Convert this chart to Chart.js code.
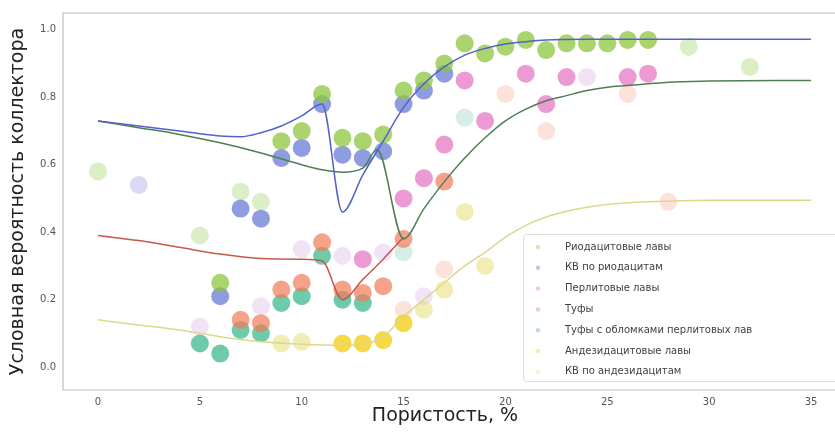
<!DOCTYPE html>
<html lang="ru">
<head>
<meta charset="UTF-8">
<title>Условная вероятность коллектора</title>
<script src="https://cdn.jsdelivr.net/npm/chart.js"></script>
<style>
  html, body { margin: 0; padding: 0; background: #fff; overflow: hidden; }
  #wrap { width: 860px; height: 434px; }
</style>
</head>
<body>
<div id="wrap"><canvas id="chart" width="860" height="434"></canvas></div>
<script>
// --- tick labels and axis titles ---
const xTicks = [0, 5, 10, 15, 20, 25, 30, 35];
const yTicks = [0.0, 0.2, 0.4, 0.6, 0.8, 1.0];
const xTitle = 'Пористость, %';
const yTitle = 'Условная вероятность коллектора';

// --- series names (legend order) ---
const seriesNames = [
  'Риодацитовые лавы',
  'КВ по риодацитам',
  'Перлитовые лавы',
  'Туфы',
  'Туфы с обломками перлитовых лав',
  'Андезидацитовые лавы',
  'КВ по андезидацитам'
];

// --- scatter points: porosity (%) and probability ---
const rhyoX = [6, 9, 10, 11, 12, 13, 14, 15, 16, 17, 18, 19, 20, 21, 22, 23, 24, 25, 26, 27];
const rhyoY = [0.25, 0.67, 0.70, 0.81, 0.68, 0.67, 0.69, 0.82, 0.85, 0.90, 0.96, 0.93, 0.95, 0.97, 0.94, 0.96, 0.96, 0.96, 0.97, 0.97];
const rhyoPaleX = [0, 5, 7, 8, 29, 32];
const rhyoPaleY = [0.58, 0.39, 0.52, 0.49, 0.95, 0.89];

const kvRhyoX = [6, 7, 8, 9, 10, 11, 12, 13, 14, 15, 16, 17];
const kvRhyoY = [0.21, 0.47, 0.44, 0.62, 0.65, 0.78, 0.63, 0.62, 0.64, 0.78, 0.82, 0.87];
const kvRhyoPaleX = [2];
const kvRhyoPaleY = [0.54];

const perlX = [13, 15, 16, 17, 18, 19, 21, 22, 23, 26, 27];
const perlY = [0.32, 0.50, 0.56, 0.66, 0.85, 0.73, 0.87, 0.78, 0.86, 0.86, 0.87];
const perlPaleX = [5, 8, 10, 12, 14, 16, 24];
const perlPaleY = [0.12, 0.18, 0.35, 0.33, 0.34, 0.21, 0.86];

const tuffX = [7, 8, 9, 10, 11, 12, 13, 14, 15, 17];
const tuffY = [0.14, 0.13, 0.23, 0.25, 0.37, 0.23, 0.22, 0.24, 0.38, 0.55];
const tuffPaleX = [15, 17, 20, 22, 26, 28];
const tuffPaleY = [0.17, 0.29, 0.81, 0.70, 0.81, 0.49];

const tuffPerlX = [5, 6, 7, 8, 9, 10, 11, 12, 13];
const tuffPerlY = [0.07, 0.04, 0.11, 0.10, 0.19, 0.21, 0.33, 0.20, 0.19];
const tuffPerlPaleX = [15, 18];
const tuffPerlPaleY = [0.34, 0.74];

const andesX = [12, 13, 14, 15];
const andesY = [0.07, 0.07, 0.08, 0.13];

const kvAndesX = [9, 10, 16, 17, 18, 19];
const kvAndesY = [0.07, 0.075, 0.17, 0.23, 0.46, 0.30];

// --- model curves ---
const blueLineX = [0, 2, 4, 6, 7, 8, 9, 10, 11, 12, 13, 14, 15, 16, 17, 18, 19, 20, 21, 22, 24, 27, 30, 35];
const blueLineY = [0.73, 0.715, 0.70, 0.685, 0.683, 0.695, 0.715, 0.745, 0.78, 0.46, 0.57, 0.67, 0.77, 0.84, 0.89, 0.925, 0.945, 0.958, 0.965, 0.97, 0.972, 0.972, 0.972, 0.972];

const greenLineX = [0, 2, 4, 6, 8, 10, 11, 12, 13, 13.7, 15, 16, 17, 18, 19, 20, 21, 22, 23, 24, 25, 26, 27, 28, 30, 35];
const greenLineY = [0.73, 0.71, 0.69, 0.665, 0.635, 0.60, 0.585, 0.578, 0.59, 0.645, 0.38, 0.47, 0.55, 0.62, 0.68, 0.73, 0.765, 0.79, 0.805, 0.82, 0.83, 0.835, 0.84, 0.845, 0.848, 0.85];

const redLineX = [0, 2, 4, 6, 8, 10, 11, 12, 13, 14, 15];
const redLineY = [0.39, 0.375, 0.355, 0.335, 0.322, 0.32, 0.315, 0.20, 0.26, 0.32, 0.385];

const yellowLineX = [0, 2, 4, 6, 8, 10, 12, 13, 14, 15, 16, 17, 18, 19, 20, 21, 22, 23, 24, 25, 27, 30, 35];
const yellowLineY = [0.14, 0.125, 0.11, 0.09, 0.075, 0.068, 0.065, 0.068, 0.09, 0.15, 0.20, 0.25, 0.30, 0.34, 0.385, 0.42, 0.445, 0.462, 0.474, 0.482, 0.49, 0.495, 0.495];

const zip = (xs, ys) => xs.map((x, i) => ({ x: x, y: ys[i] }));

const colors = ['140,198,62', '95,115,211', '228,111,192', '242,122,90', '61,186,140', '242,207,26', '232,222,120'];

function pts(label, xs, ys, c, alpha, inLegend) {
  return {
    type: 'scatter', label: label, data: zip(xs, ys), order: 2, inLegend: inLegend,
    pointRadius: 9, pointHoverRadius: 9, borderWidth: 0,
    backgroundColor: 'rgba(' + c + ',' + alpha + ')'
  };
}
function line(xs, ys, color) {
  return {
    type: 'line', label: '', data: zip(xs, ys), order: 0, inLegend: false,
    borderColor: color, borderWidth: 1.5, pointRadius: 0, fill: false,
    cubicInterpolationMode: 'monotone'
  };
}

const datasets = [
  pts(seriesNames[0], rhyoX, rhyoY, colors[0], 0.75, true),
  pts(seriesNames[1], kvRhyoX, kvRhyoY, colors[1], 0.7, true),
  pts(seriesNames[2], perlX, perlY, colors[2], 0.7, true),
  pts(seriesNames[3], tuffX, tuffY, colors[3], 0.7, true),
  pts(seriesNames[4], tuffPerlX, tuffPerlY, colors[4], 0.75, true),
  pts(seriesNames[5], andesX, andesY, colors[5], 0.8, true),
  pts(seriesNames[6], kvAndesX, kvAndesY, colors[6], 0.55, true),
  pts('', rhyoPaleX, rhyoPaleY, colors[0], 0.3, false),
  pts('', kvRhyoPaleX, kvRhyoPaleY, '170,170,230', 0.45, false),
  pts('', perlPaleX, perlPaleY, '225,190,235', 0.45, false),
  pts('', tuffPaleX, tuffPaleY, '245,175,150', 0.35, false),
  pts('', tuffPerlPaleX, tuffPerlPaleY, '150,215,190', 0.4, false),
  line(blueLineX, blueLineY, '#5262c8'),
  line(greenLineX, greenLineY, '#4d7f55'),
  line(redLineX, redLineY, '#c55a4c'),
  line(yellowLineX, yellowLineY, '#dcd88a')
];

// frame (top, left, bottom; right edge lies outside the picture) and x title
const framePlugin = {
  id: 'frame',
  afterDraw(chart) {
    const a = chart.chartArea, ctx = chart.ctx;
    ctx.save();
    ctx.strokeStyle = '#bdbdbd';
    ctx.lineWidth = 1.2;
    ctx.beginPath();
    ctx.moveTo(a.right, a.top);
    ctx.lineTo(a.left, a.top);
    ctx.lineTo(a.left, a.bottom);
    ctx.lineTo(a.right, a.bottom);
    ctx.stroke();
    ctx.fillStyle = '#222';
    ctx.font = '19px "DejaVu Sans"';
    ctx.textAlign = 'center';
    ctx.textBaseline = 'middle';
    ctx.fillText(xTitle, 445, 416);
    ctx.restore();
  }
};

// legend box in the lower right of the plot
const legendPlugin = {
  id: 'boxLegend',
  afterDraw(chart) {
    const ctx = chart.ctx;
    const items = chart.data.datasets.filter(d => d.inLegend);
    const x0 = 523, y0 = 234, w = 330, h = 147;
    ctx.save();
    ctx.fillStyle = 'rgba(255,255,255,0.85)';
    ctx.strokeStyle = '#dcdcdc';
    ctx.lineWidth = 1;
    ctx.beginPath();
    ctx.roundRect(x0 + 0.5, y0 + 0.5, w, h, 3);
    ctx.fill();
    ctx.stroke();
    ctx.font = '10px "DejaVu Sans"';
    ctx.textBaseline = 'middle';
    items.forEach((d, i) => {
      const y = y0 + 13 + i * 20.8;
      ctx.fillStyle = d.backgroundColor.replace(/[\d.]+\)$/, '0.4)');
      ctx.beginPath();
      ctx.arc(538, y, 2.2, 0, Math.PI * 2);
      ctx.fill();
      ctx.fillStyle = '#404040';
      ctx.fillText(d.label, 565, y);
    });
    ctx.restore();
  }
};

const chart = new Chart(document.getElementById('chart'), {
  data: { datasets: datasets },
  options: {
    responsive: false,
    animation: false,
    layout: { padding: { top: 10, right: 0, left: 0, bottom: 0 } },
    plugins: { legend: { display: false }, tooltip: { enabled: false } },
    scales: {
      x: {
        type: 'linear', min: -1.75, max: 36.75,
        afterBuildTicks: s => { s.ticks = xTicks.map(v => ({ value: v })); },
        afterFit: s => { s.height = 44; },
        grid: { display: false, drawTicks: false },
        border: { display: false },
        ticks: { color: '#555', font: { family: 'DejaVu Sans', size: 10 }, padding: 6 }
      },
      y: {
        type: 'linear', min: -0.068, max: 1.05,
        afterBuildTicks: s => { s.ticks = yTicks.map(v => ({ value: v })); },
        afterFit: s => { s.width = 63; },
        grid: { display: false, drawTicks: false },
        border: { display: false },
        ticks: { color: '#555', font: { family: 'DejaVu Sans', size: 10 }, padding: 7,
                 callback: v => v.toFixed(1) },
        title: { display: true, text: yTitle, color: '#222',
                 font: { family: 'DejaVu Sans', size: 19 }, padding: { top: 7, bottom: 0 } }
      }
    }
  },
  plugins: [framePlugin, legendPlugin]
});

// fit the x range so that 0 % sits at x=98 and 35 % at x=811 whatever the plot width is
const a = chart.chartArea;
const pxPerUnit = (811 - 98) / 35;
chart.options.scales.x.min = -(98 - a.left) / pxPerUnit;
chart.options.scales.x.max = (a.right - 98) / pxPerUnit;
chart.update();
</script>
</body>
</html>
